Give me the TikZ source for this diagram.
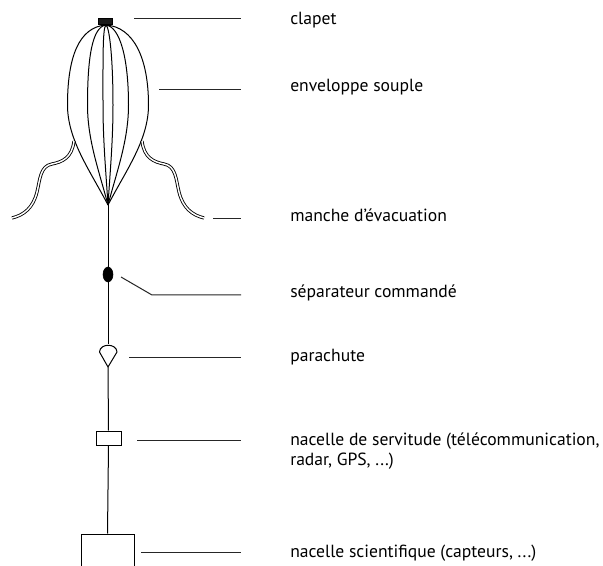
\documentclass[tikz,border=0pt]{standalone}
\usepackage{fontspec}
\setmainfont{PT Sans}
\usetikzlibrary{shapes.geometric}
\begin{document}
\begin{tikzpicture}[x=0.75pt,y=-0.75pt,
  line/.style={line width=0.75pt, black},
  leader/.style={line width=0.75pt, black!85},
  tube/.style={draw=black, double=white, double distance=1.1pt, line width=0.65pt},
  label/.style={anchor=base west, inner sep=0pt, font=\fontsize{13.2}{15}\selectfont, align=left}]
\clip (0,0) rectangle (603,566);
\fill[white] (0,0) rectangle (603,566);

% valve on top of the envelope
\node[fill=black!90, draw=black, line width=0.4pt, minimum width=10.5pt, minimum height=4.8pt, inner sep=0pt] (clapet) at (105.5,21.5) {};
\coordinate (top) at (106,25);
\coordinate (apex) at (108,205);

% envelope gores
\foreach \w in {-40.5,-20.5,-5,5,20.5,40.5}
  \draw[line] (top) .. controls (106+0.68*\w,27) and (108+\w,58) .. (108+\w,105)
                    .. controls (108+\w,140) and (108+0.45*\w,170) .. (apex);

% evacuation ducts
\coordinate (dl0) at (74,141);
\coordinate (dl1) at (12,218);
\coordinate (dr0) at (142,141);
\coordinate (dr1) at (204,218);
\draw[tube] (dl0) .. controls (72,158) and (62,162) .. (52,164)
   .. controls (40,166) and (40,180) .. (37,192)
   .. controls (33,208) and (24,215) .. (dl1);
\draw[tube] (dr0) .. controls (144,158) and (154,162) .. (164,164)
   .. controls (176,166) and (176,180) .. (179,192)
   .. controls (183,208) and (192,215) .. (dr1);

% flight train
\node[ellipse, fill=black, draw=black, inner sep=0pt, minimum width=7.5pt, minimum height=11.25pt] (sep) at (108,274.5) {};
\coordinate (ptop) at (108,344);
\coordinate (pbot) at (108,367);
\draw[line, line join=round] (pbot) -- (99.5,352) .. controls (100,343) and (116.5,343) .. (117,352) -- cycle;
\node[draw=black, line width=0.75pt, inner sep=0pt, minimum width=18.75pt, minimum height=10.5pt] (serv) at (108.5,438) {};
\node[draw=black, line width=0.75pt, inner sep=0pt, minimum width=39.75pt, minimum height=45pt] (sci) at (107.5,564) {};

\draw[line] (apex) -- (sep.north);
\draw[line] (sep.south) -- (ptop);
\draw[line] (pbot) -- (serv.north);
\draw[line] (serv.south) -- (sci.north);

% labels
\node[label] (lclapet) at (290,25) {clapet};
\node[label] (lenv) at (290,92) {enveloppe souple};
\node[label] (lmanche) at (290,222) {manche d’évacuation};
\node[label] (lsep) at (290,298) {séparateur commandé};
\node[label] (lpara) at (290,362) {parachute};
\node[label] (lserv) at (290,465) {nacelle de servitude (télécommunication,\\radar, GPS, ...)};
\node[label] (lsci) at (290,557) {nacelle scientifique (capteurs, ...)};

% leader lines
\coordinate (a1) at (134,19);  \coordinate (b1) at (241,19);
\coordinate (a2) at (159,90);  \coordinate (b2) at (241,90);
\coordinate (a3) at (213,219); \coordinate (b3) at (241,219);
\coordinate (a4) at (121,277); \coordinate (k4) at (152,295); \coordinate (b4) at (241,295);
\coordinate (a5) at (129,358); \coordinate (b5) at (241,358);
\coordinate (a6) at (137,440); \coordinate (b6) at (241,440);
\coordinate (a7) at (141,552); \coordinate (b7) at (241,552);
\draw[leader] (a1) -- (b1);
\draw[leader] (a2) -- (b2);
\draw[leader] (a3) -- (b3);
\draw[leader] (a4) -- (k4) -- (b4);
\draw[leader] (a5) -- (b5);
\draw[leader] (a6) -- (b6);
\draw[leader] (a7) -- (b7);
\end{tikzpicture}
\end{document}
